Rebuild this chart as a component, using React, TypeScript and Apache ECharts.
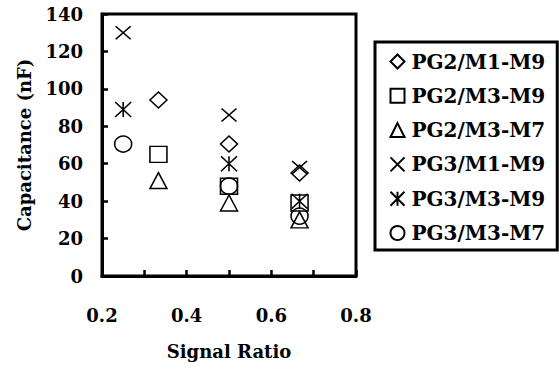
import React, { useEffect, useRef } from "react";
import * as echarts from "echarts";

const seriesNames = ["PG2/M1-M9", "PG2/M3-M9", "PG2/M3-M7", "PG3/M1-M9", "PG3/M3-M9", "PG3/M3-M7"];

const pg2Ratios = [1 / 3, 0.5, 2 / 3];
const pg3Ratios = [0.25, 0.5, 2 / 3];

const pg2M1M9 = [94, 70.5, 55];
const pg2M3M9 = [65, 48, 39];
const pg2M3M7 = [51, 39, 30];
const pg3M1M9 = [130, 86, 58];
const pg3M3M9 = [89, 60, 40];
const pg3M3M7 = [70.5, 48, 32];

const xTicks = [0.2, 0.4, 0.6, 0.8];
const yTicks = [0, 20, 40, 60, 80, 100, 120, 140];

const FONT = "DejaVu Serif";

const symbols = [
  "diamond",
  "rect",
  "triangle",
  "path://M0,0L10,10M10,0L0,10",
  "path://M0,0L10,10M10,0L0,10M5,0L5,10",
  "circle",
];

export default function App() {
  const ref = useRef<HTMLDivElement>(null);
  useEffect(() => {
    if (!ref.current) return;
    const chart = echarts.init(ref.current, null, { renderer: "svg" });
    const allValues = [pg2M1M9, pg2M3M9, pg2M3M7, pg3M1M9, pg3M3M9, pg3M3M7];
    const allRatios = [pg2Ratios, pg2Ratios, pg2Ratios, pg3Ratios, pg3Ratios, pg3Ratios];
    const series = seriesNames.map((name, i) => ({
      name,
      type: "scatter",
      symbol: symbols[i],
      symbolSize: i === 3 ? [15, 13] : i === 4 ? [16, 15] : [17, 16],
      itemStyle: {
        color: "rgba(0,0,0,0)",
        borderColor: "#000",
        borderWidth: 1.5,
        opacity: 1,
      },
      data: allRatios[i].map((x, j) => [x, allValues[i][j]]),
    }));
    chart.setOption({
      animation: false,
      backgroundColor: "#fff",
      textStyle: { fontFamily: FONT },
      grid: {
        left: 102,
        right: 203,
        top: 14,
        bottom: 93,
        show: true,
        borderColor: "#000",
        borderWidth: 3,
      },
      xAxis: {
        type: "value",
        min: 0.2,
        max: 0.8,
        interval: 0.1,
        name: "Signal Ratio",
        nameLocation: "middle",
        nameGap: 66,
        nameTextStyle: { fontFamily: FONT, fontWeight: "bold", fontSize: 18, color: "#000" },
        splitLine: { show: false },
        axisLine: { lineStyle: { color: "#000", width: 3 } },
        axisTick: { inside: true, length: 6, lineStyle: { color: "#000", width: 2.5 } },
        axisLabel: {
          margin: 30,
          fontFamily: FONT,
          fontWeight: "bold",
          fontSize: 18,
          color: "#000",
          formatter: (v: number) => {
            const t = xTicks.find((x) => Math.abs(x - v) < 1e-6);
            return t !== undefined ? t.toFixed(1) : "";
          },
        },
      },
      yAxis: {
        type: "value",
        min: yTicks[0],
        max: yTicks[yTicks.length - 1],
        interval: 20,
        name: "Capacitance (nF)",
        nameLocation: "middle",
        nameGap: 69,
        nameTextStyle: { fontFamily: FONT, fontWeight: "bold", fontSize: 18, color: "#000" },
        splitLine: { show: false },
        axisLine: { lineStyle: { color: "#000", width: 3 } },
        axisTick: { inside: true, length: 6, lineStyle: { color: "#000", width: 2.5 } },
        axisLabel: {
          margin: 19,
          fontFamily: FONT,
          fontWeight: "bold",
          fontSize: 18,
          color: "#000",
        },
      },
      legend: {
        orient: "vertical",
        left: 375,
        top: 42,
        data: seriesNames,
        itemWidth: 14,
        itemHeight: 14,
        itemGap: 12.3,
        padding: [8.5, 12, 6, 14.5],
        borderColor: "#000",
        borderWidth: 3,
        backgroundColor: "#fff",
        textStyle: {
          fontFamily: FONT,
          fontWeight: "bold",
          fontSize: 20,
          lineHeight: 22,
          color: "#000",
          padding: [0, 0, 0, 2],
        },
      },
      series,
    });
    return () => chart.dispose();
  }, []);
  return (
    <div
      ref={ref}
      style={{ position: "fixed", left: 0, top: 0, width: 559, height: 369, background: "#fff" }}
    />
  );
}
